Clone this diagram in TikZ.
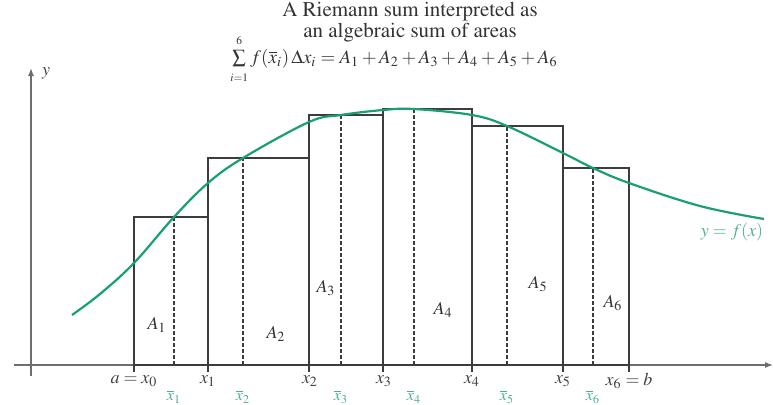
\documentclass[tikz,border=0pt]{standalone}
\usepackage[T1]{fontenc}
\usepackage{mathptmx}
\usepackage{tikz}
\usetikzlibrary{arrows.meta}
\definecolor{curveGreen}{RGB}{25,160,110}
\definecolor{labelGreen}{RGB}{80,175,140}
\definecolor{rectGray}{RGB}{60,60,60}
\definecolor{axisGray}{RGB}{110,110,110}
\tikzset{
  rectbox/.style={draw=rectGray, line width=0.55pt},
  sampleline/.style={draw=rectGray, line width=0.7pt, dash pattern=on 2pt off 1pt},
  axisline/.style={draw=axisGray, line width=0.55pt, -{Latex[length=4pt,width=3pt]}},
  titletext/.style={inner sep=0pt, align=center, font=\fontsize{10.5}{8.2}\selectfont, text=black!80},
  formulatext/.style={inner sep=0pt, font=\fontsize{9.5}{11}\selectfont, text=black!80},
  ticklabel/.style={font=\small, text=black!75},
  barlabel/.style={font=\footnotesize, text=labelGreen},
  arealabel/.style={font=\small, text=black!80}
}

\begin{document}
\begin{tikzpicture}[x=0.5pt, y=-0.5pt]
  \useasboundingbox (0,0) rectangle (773,404);
  % title
  \node[titletext] (title) at (410,22) {A Riemann sum interpreted as\\an algebraic sum of areas};
  \node[formulatext] (formula) at (394,59)
    {$\sum\limits_{\raisebox{-1.5pt}{$\scriptscriptstyle i=1$}}^{\raisebox{1pt}{$\scriptscriptstyle 6$}}
      f(\overline{x}_i)\,\Delta x_i = A_1 + A_2 + A_3 + A_4 + A_5 + A_6$};
  % axes
  \coordinate (xstart) at (14,365);
  \coordinate (xend) at (773,365);
  \coordinate (ystart) at (31,376);
  \coordinate (yend) at (31,68);
  \draw[axisline] (xstart) -- (xend);
  \draw[axisline] (ystart) -- (yend);
  \node[ticklabel, anchor=west] (ylab) at (35,73) {$y$};
  % rectangles and sample points
  \foreach \l/\r/\t/\m/\i in {134/208/217/174/1, 208/309/158/243/2, 309/383/115/341/3,
                               383/472/109/414/4, 472/563/126/507/5, 563/629/168/593/6}{
    \draw[rectbox] (\l,365) rectangle (\r,\t);
    \draw[sampleline] (\m,365) -- (\m,\t);
    \node[barlabel] (xbar\i) at (\m,397) {$\overline{x}_{\i}$};
  }
  % ticks
  \foreach \x in {134,208,309,383,472,563,629}
    \draw[rectbox] (\x,365) -- (\x,372);
  \node[ticklabel] (x0) at (134,381) {$a = x_0$};
  \node[ticklabel] (x1) at (208,381) {$x_1$};
  \node[ticklabel] (x2) at (310,381) {$x_2$};
  \node[ticklabel] (x3) at (384,381) {$x_3$};
  \node[ticklabel] (x4) at (472,381) {$x_4$};
  \node[ticklabel] (x5) at (563,381) {$x_5$};
  \node[ticklabel] (x6) at (629,381) {$x_6 = b$};
  % area labels
  \node[arealabel] (a1) at (157,325) {$A_1$};
  \node[arealabel] (a2) at (276,334) {$A_2$};
  \node[arealabel] (a3) at (326,288) {$A_3$};
  \node[arealabel] (a4) at (443,310) {$A_4$};
  \node[arealabel] (a5) at (538,284) {$A_5$};
  \node[arealabel] (a6) at (613,303) {$A_6$};
  % the curve
  \draw[curveGreen, line width=1.1pt] plot[smooth, tension=0.6] coordinates {
    (72,315) (100,294) (134,263) (174,217) (208,183) (243,158) (309,122)
    (341,115) (383,110) (414,109) (472,115) (507,126) (563,153) (593,168)
    (629,183) (700,206) (764,219)};
  \node[font=\small, text=labelGreen] (flab) at (732,232) {$y = f(x)$};
\end{tikzpicture}
\end{document}
